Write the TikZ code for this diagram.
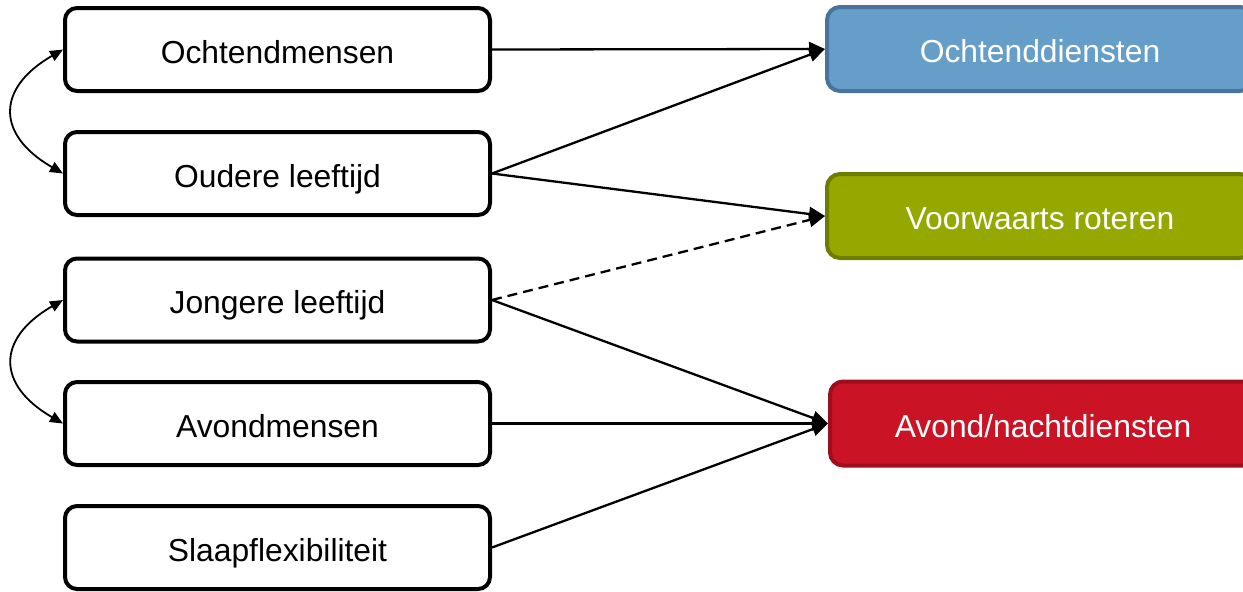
\documentclass[tikz,border=0pt]{standalone}
\usepackage{fontspec}
\setmainfont{Liberation Sans}
\usetikzlibrary{arrows.meta}
\definecolor{blueFill}{HTML}{669ECA}
\definecolor{blueLine}{HTML}{48739A}
\definecolor{greenFill}{HTML}{94A800}
\definecolor{greenLine}{HTML}{6E7C00}
\definecolor{redFill}{HTML}{CA1426}
\definecolor{redLine}{HTML}{A00D1C}
\tikzset{
  boxtext/.style={font=\fontsize{31.8}{38}\selectfont, text height=27pt, text depth=0pt},
  factor/.style={boxtext, draw=black, line width=4pt, fill=white, rounded corners=12pt,
    minimum width=425pt, minimum height=83pt, inner sep=0pt},
  outcome/.style={boxtext, line width=4pt, rounded corners=13pt, text=white,
    minimum width=426pt, minimum height=84pt, inner sep=0pt},
  link/.style={line width=2.3pt, -{Triangle[length=16pt,width=14pt]}},
  mutual/.style={line width=1.8pt, {Triangle[length=13pt,width=11pt]}-{Triangle[length=13pt,width=11pt]}},
}
\begin{document}
\begin{tikzpicture}[x=1pt,y=-1pt]
  \clip (0,0) rectangle (1243,592);

  % predictors
  \node[factor] (om) at (277.5,49.5) {Ochtendmensen};
  \node[factor] (ol) at (277.5,173.5) {Oudere leeftijd};
  \node[factor] (jl) at (277.5,300) {Jongere leeftijd};
  \node[factor] (am) at (277.5,423.5) {Avondmensen};
  \node[factor] (sf) at (277.5,547.5) {Slaapflexibiliteit};

  % shift outcomes
  \node[outcome, draw=blueLine, fill=blueFill] (od) at (1040,49) {Ochtenddiensten};
  \node[outcome, draw=greenLine, fill=greenFill] (vr) at (1040,216) {Voorwaarts roteren};
  \node[outcome, draw=redLine, fill=redFill] (an) at (1043,423.5) {Avond/nachtdiensten};

  % effects
  \draw[link] (om.east) -- (od.west);
  \draw[link] (ol.east) -- (od.west);
  \draw[link] (ol.east) -- (vr.west);
  \draw[link, dash pattern=on 10pt off 6pt] (jl.east) -- (vr.west);
  \draw[link] (jl.east) -- (an.west);
  \draw[link] (am.east) -- (an.west);
  \draw[link] (sf.east) -- (an.west);

  % correlations
  \draw[mutual] (om.west) to[out=210,in=150,looseness=1.6] (ol.west);
  \draw[mutual] (jl.west) to[out=210,in=150,looseness=1.6] (am.west);
\end{tikzpicture}
\end{document}
